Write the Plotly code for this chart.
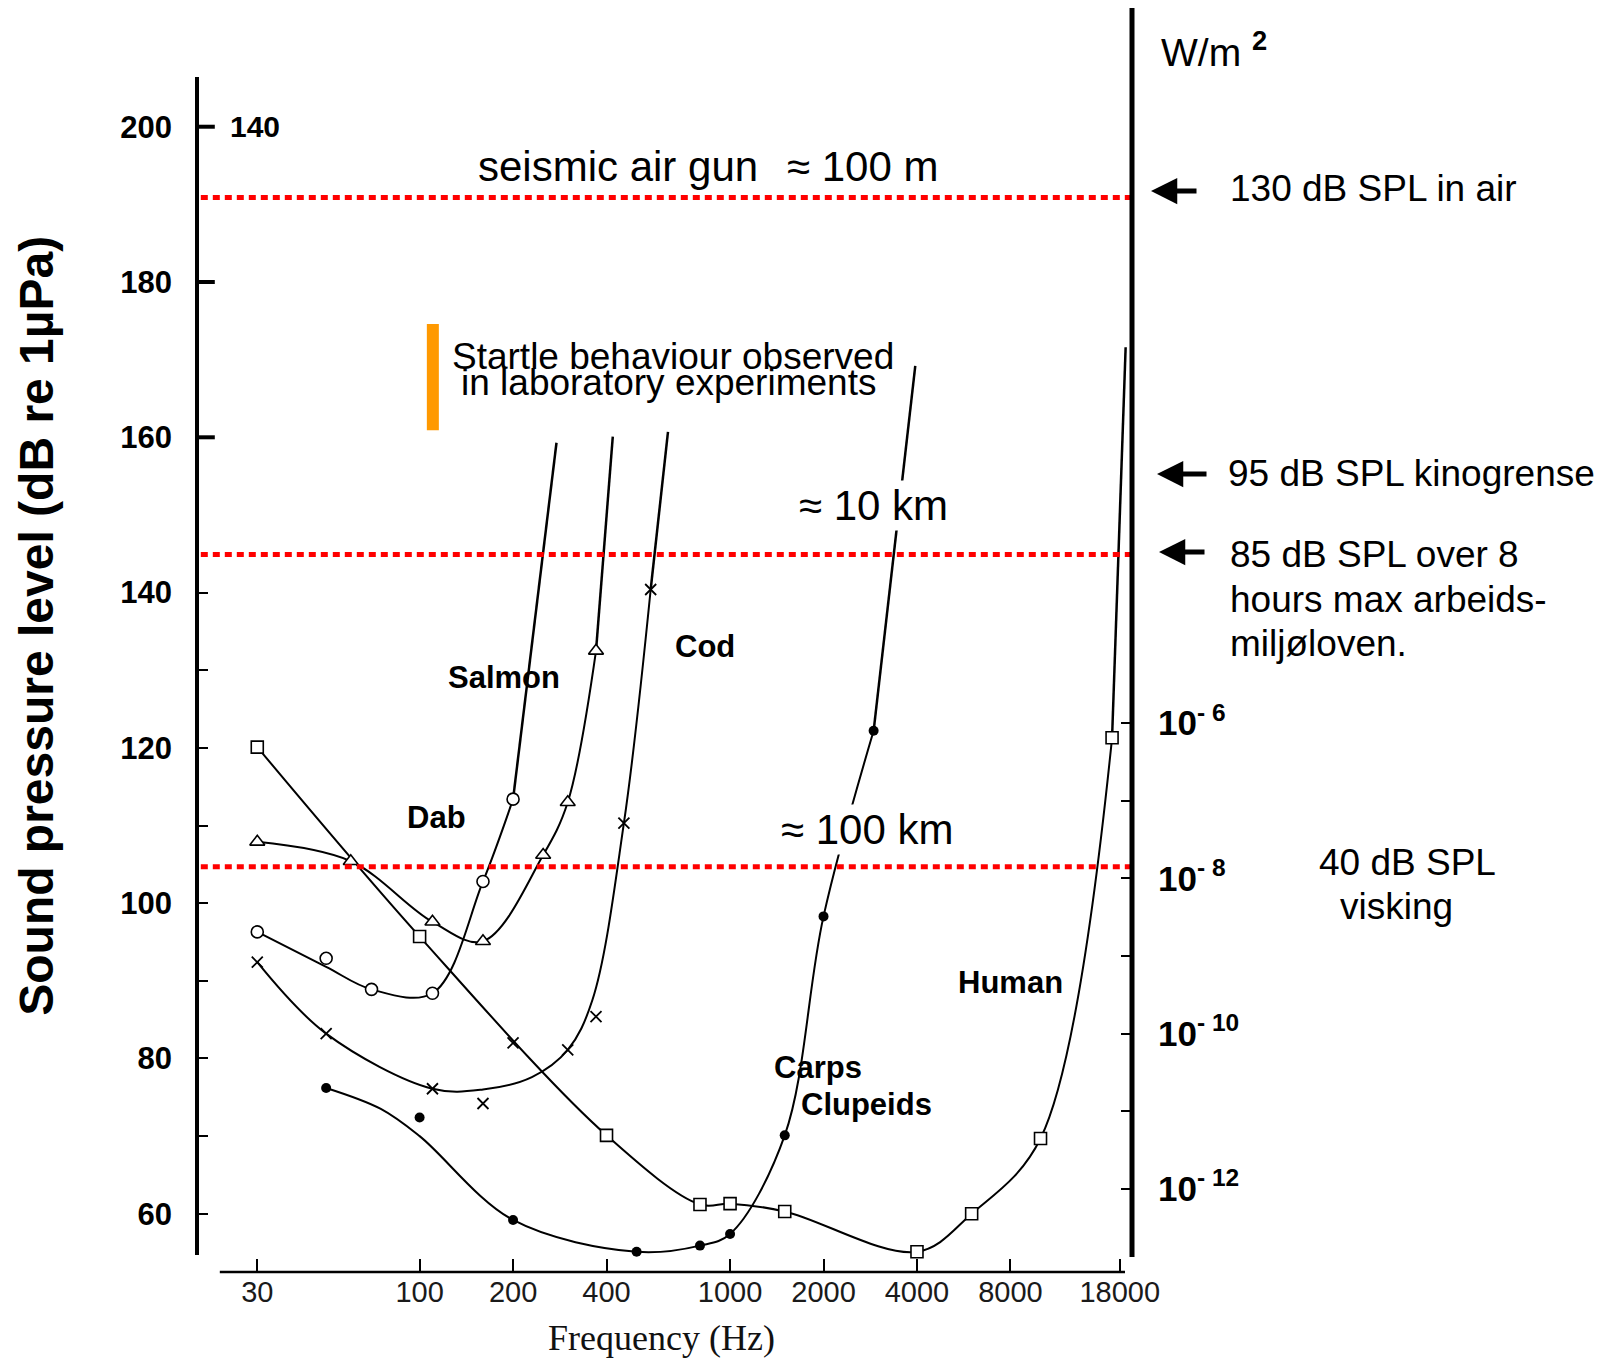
import numpy as np
import plotly.graph_objects as go

# ---------------- data ----------------
freq_ticks = [30, 100, 200, 400, 1000, 2000, 4000, 8000, 18000]
db_major = list(range(60, 201, 20))
db_minor = [70, 90, 110, 130]
w_major = [-12, -10, -8, -6]
w_minor = [-12, -11, -10, -9, -8, -7, -6]

# red reference levels (dB re 1 uPa)
ref_levels = [190.9, 144.9, 104.7]

# Human (open squares)
human_f = [30, 100, 400, 800, 1000, 1500, 4000, 6000, 10000, 17000]
human_db = [120.1, 95.7, 70.1, 61.2, 61.3, 60.3, 55.1, 60.0, 69.7, 121.3]
human_ext_f = [17000, 18800]
human_ext_db = [121.3, 171.6]

# Salmon (open circles)
salmon_f = [30, 50, 70, 110, 160, 200]
salmon_db = [96.3, 92.9, 88.9, 88.4, 102.8, 113.4]
salmon_curve_db = [96.3, 91.8, 88.9, 88.4, 102.8, 113.4]
salmon_ext_f = [200, 276]
salmon_ext_db = [113.4, 159.3]

# Dab (open triangles)
dab_f = [30, 60, 110, 160, 250, 300, 370]
dab_db = [107.9, 105.4, 97.6, 95.1, 106.2, 113.0, 132.5]
dab_ext_f = [370, 419]
dab_ext_db = [132.5, 160.1]

# Cod (crosses)
cod_f = [30, 50, 110, 160, 200, 300, 370, 455, 555]
cod_db = [92.4, 83.2, 76.1, 74.2, 82.0, 81.1, 85.4, 110.3, 140.4]
cod_curve_f = [30, 50, 110, 160, 230, 300, 360, 455, 555]
cod_curve_db = [92.4, 83.2, 76.1, 76.0, 77.6, 81.1, 87.5, 110.3, 140.4]
cod_ext_f = [555, 631]
cod_ext_db = [140.4, 160.7]

# Carps / Clupeids (filled circles)
carps_f = [50, 100, 200, 500, 800, 1000, 1500, 2000, 2900]
carps_db = [76.2, 72.4, 59.2, 55.1, 55.9, 57.4, 70.1, 98.3, 122.2]
carps_curve_f = [50, 75, 100, 200, 500, 800, 1000, 1500, 2000, 2900]
carps_curve_db = [76.2, 73.5, 70.0, 59.2, 55.1, 55.9, 57.4, 70.1, 98.3, 122.2]
carps_ext_f = [2900, 3950]
carps_ext_db = [122.2, 169.2]

# startle range (dB)
startle_range = [160.9, 174.6]

# ---------------- layout geometry ----------------
OFF = 8  # default page margin of the html body
W, H = 1602 - OFF, 1359 - OFF
PL, PR, PT, PB = 197.2, 1132.0, 8.0, 1272.0     # page pixels of plot area
XR = [1.28296, 4.29465]
YR = [52.5, 215.29]
# W/m^2 exponent axis: 10 dB per decade, 1e-12 at 63.2 dB
YR2 = [-12 + (YR[0] - 63.2) / 10, -12 + (YR[1] - 63.2) / 10]

SANS = "Liberation Sans, Arial, Helvetica, sans-serif"
SERIF = "Liberation Serif, Times New Roman, serif"


def PX(X):
    return (X - PL) / (PR - PL)


def PY(Y):
    return (PB - Y) / (PB - PT)


fig = go.Figure()

LINE = dict(color="black", width=2, shape="spline", smoothing=1.0)
EXT = dict(color="black", width=2.5)


def curve(fx, fy):
    fig.add_trace(go.Scatter(x=fx, y=fy, mode="lines", line=LINE,
                             hoverinfo="skip", showlegend=False))


def ext(fx, fy):
    fig.add_trace(go.Scatter(x=fx, y=fy, mode="lines", line=EXT,
                             hoverinfo="skip", showlegend=False))


def marks(fx, fy, symbol, size, fill="white", lw=1.6):
    fig.add_trace(go.Scatter(x=fx, y=fy, mode="markers",
                             marker=dict(symbol=symbol, size=size, color=fill,
                                         line=dict(color="black", width=lw)),
                             showlegend=False))


# curves
curve(human_f, human_db)
ext(human_ext_f, human_ext_db)
curve(salmon_f, salmon_curve_db)
ext(salmon_ext_f, salmon_ext_db)
curve(dab_f, dab_db)
ext(dab_ext_f, dab_ext_db)
curve(cod_curve_f, cod_curve_db)
ext(cod_ext_f, cod_ext_db)
curve(carps_curve_f, carps_curve_db)
ext(carps_ext_f, carps_ext_db)

# markers
marks(human_f, human_db, "square", 12)
marks(salmon_f, salmon_db, "circle", 12)
marks(dab_f, dab_db, "triangle-up", 13)
marks(cod_f, cod_db, "x-thin", 11, fill="black", lw=1.8)
marks(carps_f, carps_db, "circle", 10, fill="black", lw=0)

# dummy trace for the W/m^2 axis
fig.add_trace(go.Scatter(x=[None], y=[None], yaxis="y2", showlegend=False))

shapes = []
# red dotted reference lines
for lv in ref_levels:
    shapes.append(dict(type="line", xref="paper", yref="y", x0=PX(201), x1=1.0,
                       y0=lv, y1=lv, line=dict(color="#ff0000", width=5, dash="7px,5px"),
                       layer="above"))
# axis lines
shapes.append(dict(type="line", xref="paper", yref="paper", x0=0, x1=0,
                   y0=PY(77), y1=PY(1255), line=dict(color="black", width=4)))
shapes.append(dict(type="line", xref="paper", yref="paper", x0=1, x1=1,
                   y0=PY(8), y1=PY(1257), line=dict(color="black", width=5)))
shapes.append(dict(type="line", xref="paper", yref="paper", x0=PX(220), x1=PX(1125),
                   y0=0, y1=0, line=dict(color="black", width=2.5)))
# thick ticks on top part of left axis
for v in [200, 180, 160]:
    shapes.append(dict(type="line", xref="paper", yref="y", x0=0, x1=PX(215),
                       y0=v, y1=v, line=dict(color="black", width=4)))
# orange startle bar
shapes.append(dict(type="rect", xref="paper", yref="y", x0=PX(427), x1=PX(439),
                   y0=startle_range[0], y1=startle_range[1],
                   fillcolor="#ff9900", line=dict(width=0)))

annotations = []


def ann(text, X, Y, size, family=SANS, xanchor="left", bg=None, color="black"):
    d = dict(text=text, x=PX(X), y=PY(Y), xref="paper", yref="paper",
             xanchor=xanchor, yanchor="middle", showarrow=False,
             font=dict(size=size, family=family, color=color))
    if bg:
        d["bgcolor"] = bg
    annotations.append(d)


# titles
annotations.append(dict(text="<b>Sound pressure level (dB re 1µPa)</b>", x=PX(36), y=PY(626),
                        xref="paper", yref="paper", textangle=-90, showarrow=False,
                        xanchor="center", yanchor="middle",
                        font=dict(size=48, family=SANS, color="black")))
ann("Frequency (Hz)", 662, 1338, 36, family=SERIF, xanchor="center", color="#111")

ann("<b>140</b>", 228, 126, 30)
ann("seismic air gun", 476, 166, 42)
ann("≈ 100 m", 785, 166, 42)
ann("≈ 10 km", 797, 505, 42, bg="white")
ann("≈ 100 km", 779, 829, 42, bg="white")
ann("Startle behaviour observed", 450, 356, 37)
ann("in laboratory experiments", 459, 382, 37)

ann("<b>Salmon</b>", 504, 678, 31, xanchor="center")
ann("<b>Dab</b>", 437, 817, 31, xanchor="center")
ann("<b>Cod</b>", 705, 646, 31, xanchor="center")
ann("<b>Human</b>", 1011, 982, 31, xanchor="center")
ann("<b>Carps</b>", 818, 1067, 31, xanchor="center")
ann("<b>Clupeids</b>", 867, 1104, 31, xanchor="center")

ann("W/m <b><sup>2</sup></b>", 1159, 50, 39)
ann("130 dB SPL in air", 1228, 189, 37)
ann("95 dB SPL kinogrense", 1226, 474, 37)
ann("85 dB SPL over 8", 1228, 554, 37)
ann("hours max arbeids-", 1228, 599, 37)
ann("miljøloven.", 1228, 643, 37)
ann("40 dB SPL", 1407, 863, 37, xanchor="center")
ann("visking", 1396, 906, 37, xanchor="center")

# arrows
for tipX, tailX, Y in [(1151, 1198, 191), (1157, 1208, 474), (1159, 1206, 552)]:
    annotations.append(dict(text="", x=PX(tipX), y=PY(Y), xref="paper", yref="paper",
                            ax=tailX - tipX, ay=0, axref="pixel", ayref="pixel",
                            showarrow=True, arrowhead=2, arrowsize=1.05, arrowwidth=5,
                            arrowcolor="black", standoff=0, startstandoff=0))

TICK = dict(ticks="inside", ticklen=11, tickwidth=1.6, tickcolor="black")

fig.update_layout(
    width=W, height=H,
    margin=dict(l=PL - OFF, r=W - (PR - OFF), t=PT - OFF, b=H - (PB - OFF), pad=0),
    paper_bgcolor="white", plot_bgcolor="white",
    showlegend=False,
    xaxis=dict(type="log", range=XR, tickvals=freq_ticks,
               ticktext=[str(v) for v in freq_ticks],
               ticks="inside", ticklen=13, tickwidth=1.6, tickcolor="black",
               showline=False, showgrid=False, zeroline=False, automargin=False,
               tickfont=dict(family=SANS, size=29, color="#1a1a1a")),
    yaxis=dict(range=YR, tickvals=db_major,
               ticktext=["<b>%d</b>" % v for v in db_major],
               minor=dict(tickvals=db_minor, **TICK),
               showline=False, showgrid=False, zeroline=False, automargin=False,
               ticklabelstandoff=24, **TICK,
               tickfont=dict(family=SANS, size=31, color="black")),
    yaxis2=dict(range=YR2, overlaying="y", side="right", tickvals=w_major,
                ticktext=["<b>10<sup>- %d</sup></b>" % (-v) for v in w_major],
                minor=dict(tickvals=w_minor, **TICK),
                showline=False, showgrid=False, zeroline=False, automargin=False,
                ticklabelstandoff=25, **TICK,
                tickfont=dict(family=SANS, size=35, color="black")),
    shapes=shapes,
    annotations=annotations,
)

fig.write_html("out.html")
